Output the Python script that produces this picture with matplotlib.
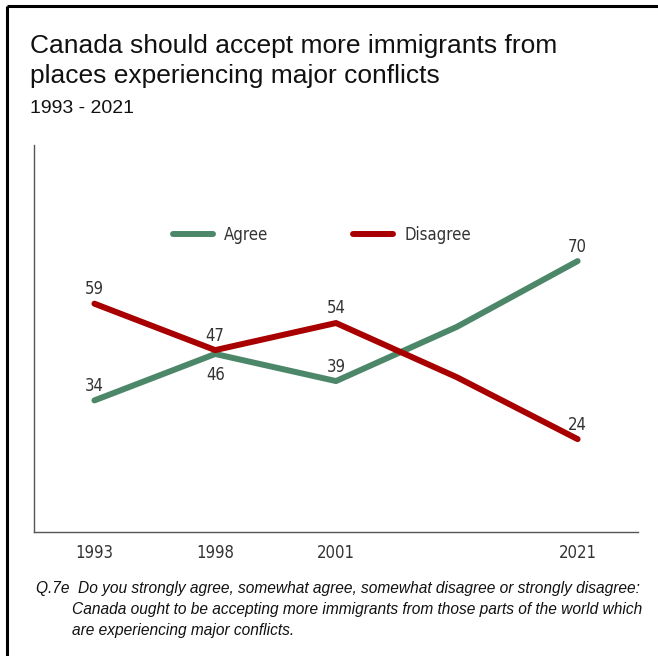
import matplotlib
matplotlib.use("Agg")
import matplotlib.pyplot as plt
from matplotlib.lines import Line2D

# Survey years (the fourth wave is unlabelled on the axis)
years = ["1993", "1998", "2001", "", "2021"]
agree = [34, 46, 39, 53, 70]
disagree = [59, 47, 54, 40, 24]
# which points carry a value label, and whether it sits above (+1) or below (-1)
agree_labels = [1, -1, 1, 0, 1]
disagree_labels = [1, 1, 1, 0, 1]

GREEN = "#4c8769"
RED = "#a80000"
LABEL_GREY = "#333333"

COND = dict(family="DejaVu Sans", fontstretch="condensed")

fig = plt.figure(figsize=(6.58, 6.56), dpi=100)

# thin frame along the top and left edge of the figure
fig.add_artist(Line2D([7 / 658, 7 / 658], [0, 1 - 6 / 656], transform=fig.transFigure,
                      color="black", lw=2.2, solid_capstyle="butt"))
fig.add_artist(Line2D([7 / 658, 1], [1 - 6 / 656, 1 - 6 / 656], transform=fig.transFigure,
                      color="black", lw=2.2, solid_capstyle="butt"))

fig.text(30 / 658, 1 - 53 / 656, "Canada should accept more immigrants from",
         family="Liberation Sans", fontsize=19, color="#111111", va="baseline")
fig.text(30 / 658, 1 - 83 / 656, "places experiencing major conflicts",
         family="Liberation Sans", fontsize=19, color="#111111", va="baseline")
fig.text(30 / 658, 1 - 113 / 656, "1993 - 2021",
         family="Liberation Sans", fontsize=14, color="#111111", va="baseline")

ax = fig.add_axes([34 / 658, 1 - 532 / 656, (638 - 34) / 658, (532 - 145) / 656])
x = list(range(len(years)))
ax.plot(x, agree, color=GREEN, lw=4.3, solid_capstyle="round", solid_joinstyle="round",
        label="Agree")
ax.plot(x, disagree, color=RED, lw=4.3, solid_capstyle="round", solid_joinstyle="round",
        label="Disagree")

ax.set_xlim(-0.5, 4.5)
ax.set_ylim(0, 100)
ax.set_yticks([])
ax.set_xticks(x)
ax.set_xticklabels(years, fontsize=12, color=LABEL_GREY, **COND)
ax.tick_params(axis="x", length=0, pad=8.5)
for side in ("top", "right"):
    ax.spines[side].set_visible(False)
for side in ("left", "bottom"):
    ax.spines[side].set_color("#555555")
    ax.spines[side].set_linewidth(1.0)

for series, flags in ((agree, agree_labels), (disagree, disagree_labels)):
    for i, (v, f) in enumerate(zip(series, flags)):
        if f == 0:
            continue
        ax.annotate(str(v), (i, v), xytext=(0, 4 if f > 0 else -9),
                    textcoords="offset points",
                    ha="center", va="bottom" if f > 0 else "top",
                    fontsize=12, color=LABEL_GREY, **COND)

leg = ax.legend(loc="center left", bbox_to_anchor=((173 - 34) / 604, (532 - 235) / 387),
                ncol=2, frameon=False, borderpad=0, borderaxespad=0,
                handlelength=2.4, columnspacing=5.1, handletextpad=0.66,
                prop=dict(family="DejaVu Sans", stretch="condensed", size=12))
for line in leg.get_lines():
    line.set_solid_capstyle("round")
for t in leg.get_texts():
    t.set_color(LABEL_GREY)

fig.text(36 / 658, 1 - 593 / 656,
         "Q.7e  Do you strongly agree, somewhat agree, somewhat disagree or strongly disagree:",
         family="Liberation Sans", style="italic", fontsize=11.2, color="#111111",
         va="baseline")
fig.text(72 / 658, 1 - 614 / 656,
         "Canada ought to be accepting more immigrants from those parts of the world which",
         family="Liberation Sans", style="italic", fontsize=11.2, color="#111111",
         va="baseline")
fig.text(72 / 658, 1 - 635 / 656, "are experiencing major conflicts.",
         family="Liberation Sans", style="italic", fontsize=11.2, color="#111111",
         va="baseline")

fig.savefig("out.png", dpi=100)
